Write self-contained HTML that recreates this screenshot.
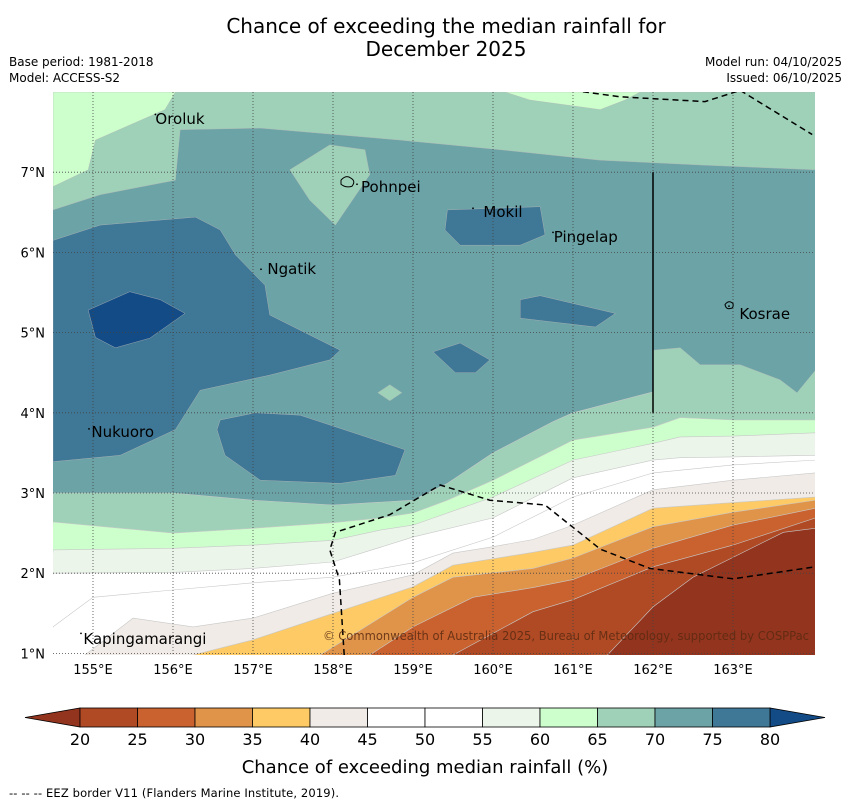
<!DOCTYPE html>
<html><head><meta charset="utf-8"><style>
html,body{margin:0;padding:0;background:#fff;}
body{width:850px;height:804px;overflow:hidden;font-family:"Liberation Sans","DejaVu Sans",sans-serif;}
svg text{font-family:"DejaVu Sans","Liberation Sans",sans-serif;}
</style></head><body>
<svg id="chart" width="850" height="804" xmlns="http://www.w3.org/2000/svg">
<text x="446" y="33" font-size="20" text-anchor="middle">Chance of exceeding the median rainfall for</text>
<text x="446" y="56" font-size="20" text-anchor="middle">December 2025</text>
<text x="9" y="66" font-size="12">Base period: 1981-2018</text>
<text x="9" y="82" font-size="12">Model: ACCESS-S2</text>
<text x="842" y="66" font-size="12" text-anchor="end">Model run: 04/10/2025</text>
<text x="842" y="82" font-size="12" text-anchor="end">Issued: 06/10/2025</text>
<defs><clipPath id="mapclip"><rect x="53" y="92" width="762" height="563"/></clipPath></defs>
<g id="map" clip-path="url(#mapclip)"></g>
<g id="axes"></g>
<g id="cbar"></g>
<text x="425" y="773" font-size="18" text-anchor="middle">Chance of exceeding median rainfall (%)</text>
<text x="9" y="797" font-size="11.5" textLength="330">--  --  -- EEZ border V11 (Flanders Marine Institute, 2019).</text>
</svg>
<script>
// ---- data ----
const levels = [20,25,30,35,40,45,50,55,60,65,70,75,80];
const levelColors = ["#b04a25","#c9622f","#e0944a","#fdca66","#f0ebe6","#ffffff","#ffffff","#ebf5ea","#ccffcc","#9ed1b8","#6ba3a6","#3f7796"];
const underColor = "#93341e";
const overColor = "#134b86";
const lonTicks = [155,156,157,158,159,160,161,162,163];
const latTicks = [1,2,3,4,5,6,7];
// north regions: [class value, polygon lon/lat]
const northRegions = [
 [67,[[154.5,8],[164.03,8],[164.03,7.03],[162.59,7.09],[161.34,7.15],[160.09,7.28],[158.84,7.4],[157.09,7.55],[156.09,7.53],[156.03,6.9],[155.09,6.72],[154.5,6.53]]],
 [62,[[154.5,8],[156.03,8],[155.9,7.78],[155.03,7.4],[154.94,7.03],[154.5,6.82]]],
 [62,[[160.15,8],[160.46,7.9],[161.34,7.78],[161.65,7.9],[161.84,8]]],
 [67,[[157.46,7.03],[157.96,7.34],[158.4,7.28],[158.46,6.97],[158.03,6.34],[157.71,6.65]]],
 [77,[[154.5,6.15],[155.09,6.34],[156.28,6.44],[156.59,6.28],[156.78,5.97],[157.15,5.59],[157.21,5.22],[158.09,4.78],[157.96,4.66],[157.21,4.47],[156.34,4.28],[156.03,3.79],[155.34,3.47],[154.5,3.39]]],
 [77,[[159.43,6.53],[160.59,6.57],[160.65,6.22],[160.34,6.09],[159.59,6.09],[159.4,6.28]]],
 [77,[[156.59,3.91],[157.03,4.0],[157.59,3.97],[158.9,3.54],[158.78,3.22],[158.09,3.12],[157.09,3.16],[156.65,3.47],[156.55,3.79]]],
 [77,[[160.34,5.41],[160.59,5.46],[161.53,5.24],[161.28,5.07],[160.34,5.18]]],
 [77,[[159.25,4.76],[159.59,4.87],[159.96,4.66],[159.78,4.5],[159.53,4.5]]],
 [67,[[158.56,4.25],[158.71,4.35],[158.86,4.25],[158.71,4.15]]],
 [82,[[154.94,5.28],[155.46,5.51],[155.84,5.41],[156.15,5.24],[155.71,4.93],[155.28,4.81],[155.03,4.94]]]
];
const kosraeRegion = [[162.0,4.78],[162.34,4.81],[162.59,4.6],[163.09,4.6],[163.59,4.41],[163.8,4.25],[164.03,4.53],[164.03,4.0],[162.0,4.0]];
// south bands: area below boundary has values below "below"
const bandBelow = [70,65,60,55,50,45,40,35,30,25,20];
const bandLons = [
 [154.5,155,156,157,158,159,159.43,160,160.75,161,162,163,164.03],
 [154.5,156,157,158,158.6,159,159.43,160,161,162,162.34,163,164.03],
 [154.5,156,157,158,158.6,159,160,161,162,162.34,163,164.03],
 [154.5,156,157,158,159,160,161,162,162.34,163,164.03],
 [154.5,155,156,157,158,159,160,161,162,163,164.03],
 [154.9,155.5,156.25,157,158,159,159.5,160,160.5,161,162,163,164.03],
 [156.25,157,158,159,159.5,160.5,161,162,163,164.03],
 [157.84,159,159.5,160.5,161,162,163,164.03],
 [158.46,159,159.75,160.5,161,162,163,164.03],
 [159.5,160.5,161,162,163,164.03],
 [161.43,162,162.5,163.63,164.03]
];
const bandLats = [
 [3.0,3.0,3.0,2.91,2.85,2.91,3.12,3.5,3.89,4.0,4.26,4.07,4.1],
 [2.64,2.5,2.56,2.63,2.69,2.75,2.91,3.16,3.66,3.82,3.94,3.91,3.91],
 [2.29,2.31,2.35,2.41,2.54,2.6,2.95,3.41,3.62,3.7,3.71,3.75],
 [2.0,2.01,2.06,2.14,2.45,2.69,3.19,3.41,3.44,3.45,3.47],
 [1.33,1.7,1.79,1.88,1.95,2.13,2.45,2.95,3.25,3.35,3.41],
 [0.98,1.44,1.33,1.44,1.75,1.98,2.25,2.33,2.42,2.6,3.04,3.16,3.25],
 [0.98,1.17,1.5,1.83,2.1,2.26,2.35,2.81,2.88,2.95],
 [0.98,1.7,1.95,2.06,2.19,2.58,2.76,2.91],
 [0.98,1.33,1.7,1.82,1.92,2.31,2.6,2.81],
 [0.98,1.52,1.67,2.08,2.35,2.69],
 [0.98,1.58,1.95,2.51,2.56]
];
const eezSouth = [[158.14,0.98],[158.08,1.92],[157.96,2.29],[158.03,2.51],[158.71,2.73],[159.34,3.1],[159.96,2.91],[160.65,2.85],[161.34,2.3],[161.96,2.06],[163.0,1.93],[164.03,2.08]];
const eezNorth = [[161.0,8.02],[161.59,7.94],[162.65,7.88],[163.09,8.02]];
const eezNorth2 = [[163.09,8.02],[163.99,7.47]];
const places = [["Oroluk",155.78,7.72],["Pohnpei",158.3,6.85],["Mokil",159.75,6.55],["Pingelap",160.75,6.25],["Ngatik",157.1,5.79],["Kosrae",162.95,5.33],["Nukuoro",154.95,3.8],["Kapingamarangi",154.85,1.25]];
const labelText = [["Oroluk",155.78,7.6],["Pohnpei",158.35,6.75],["Mokil",159.88,6.44],["Pingelap",160.76,6.13],["Ngatik",157.18,5.73],["Kosrae",163.08,5.17],["Nukuoro",154.98,3.7],["Kapingamarangi",154.88,1.12]];

// ---- axes ----
const X0=53,X1=815,Y0=92,Y1=655;
const lonMin=154.5,lonMax=164.025,latMin=0.98,latMax=8.0;
const xS=v=>X0+(v-lonMin)/(lonMax-lonMin)*(X1-X0);
const yS=v=>Y1-(v-latMin)/(latMax-latMin)*(Y1-Y0);
const NS="http://www.w3.org/2000/svg";
function mk(tag,attrs,parent){const e=document.createElementNS(NS,tag);for(const k in attrs)e.setAttribute(k,attrs[k]);parent.appendChild(e);return e;}
function colorFor(v){if(v<levels[0])return underColor;if(v>=levels[levels.length-1])return overColor;for(let i=0;i<levels.length-1;i++)if(v>=levels[i]&&v<levels[i+1])return levelColors[i];}
const map=document.getElementById('map');
let base=mk('rect',{x:X0,y:Y0,width:X1-X0,height:Y1-Y0,fill:colorFor(72)},map);


const ptsStr=p=>p.map(q=>xS(q[0]).toFixed(1)+','+yS(q[1]).toFixed(1)).join(' ');
northRegions.forEach((r,i)=>{
 const e=mk('polygon',{points:ptsStr(r[1]),fill:colorFor(r[0]),stroke:'#b8b8b8','stroke-width':0.4},map);
 
 
});
bandBelow.forEach((b,i)=>{
 const p=bandLons[i].map((lo,j)=>[lo,bandLats[i][j]]);
 p.push([lonMax+0.1,latMin-0.1]);p.push([bandLons[i][0],latMin-0.1]);p.push([lonMin-0.1,latMin-0.1]);
 const e=mk('polygon',{points:ptsStr(p),fill:colorFor(b-2.5),stroke:'#c8c8c8','stroke-width':0.6},map);
 
 
 if(i===0){
  const k=mk('polygon',{points:ptsStr(kosraeRegion),fill:colorFor(67),stroke:'#b8b8b8','stroke-width':0.4},map);
  
  
 }
});
// grid
lonTicks.forEach(v=>{const e=mk('line',{x1:xS(v),x2:xS(v),y1:Y0,y2:Y1,stroke:'#444','stroke-width':0.8,'stroke-dasharray':'1,2'},map);
 
 });
latTicks.forEach(v=>{const e=mk('line',{x1:X0,x2:X1,y1:yS(v),y2:yS(v),stroke:'#444','stroke-width':0.8,'stroke-dasharray':'1,2'},map);
 
 });
// eez
[eezSouth,eezNorth,eezNorth2].forEach(l=>{const e=mk('polyline',{points:ptsStr(l),fill:'none',stroke:'#000','stroke-width':1.5,'stroke-dasharray':'6,4'},map);
 
 });
let kl=mk('line',{x1:xS(162),x2:xS(162),y1:yS(7),y2:yS(4),stroke:'#000','stroke-width':1.5},map);


// islands
let pi=mk('path',{d:`M${xS(158.1)},${yS(6.9)} q5,-6 10,-2 q5,3 1,8 q-6,2 -11,-2 z`,fill:'none',stroke:'#000','stroke-width':1},map);


let ki=mk('path',{d:`M${xS(162.9)},${yS(5.35)} q4,-5 8,-1 q1,5 -3,5 q-4,1 -5,-4 z`,fill:'none',stroke:'#000','stroke-width':1},map);


places.forEach(p=>{const e=mk('circle',{cx:xS(p[1]),cy:yS(p[2]),r:0.9,fill:'#000'},map);
 
 });
labelText.forEach(p=>{const e=mk('text',{x:xS(p[1]),y:yS(p[2]),'font-size':15,fill:'#000'},map);e.textContent=p[0];
 
 });
let cp=mk('text',{x:323,y:640,'font-size':12,textLength:486,lengthAdjust:'spacingAndGlyphs',fill:'#5a2a10','fill-opacity':0.85},map);
cp.textContent='© Commonwealth of Australia 2025, Bureau of Meteorology, supported by COSPPac';


// ticks
const ax=document.getElementById('axes');
lonTicks.forEach(v=>{const e=mk('text',{x:xS(v),y:674,'font-size':13,'text-anchor':'middle'},ax);e.textContent=v+'°E';
 
 });
latTicks.forEach(v=>{const e=mk('text',{x:45,y:yS(v)+5,'font-size':13,'text-anchor':'end'},ax);e.textContent=v+'°N';
 
 });
// colorbar
const cb=document.getElementById('cbar');
const cX0=80,cX1=770,cY0=708,cY1=727;
const cS=v=>cX0+(v-levels[0])/(levels[levels.length-1]-levels[0])*(cX1-cX0);
let lt=mk('polygon',{points:`${cX0},${cY0} ${cX0},${cY1} 25,${(cY0+cY1)/2}`,fill:underColor,stroke:'#000','stroke-width':0.8},cb);


let rt=mk('polygon',{points:`${cX1},${cY0} ${cX1},${cY1} 825,${(cY0+cY1)/2}`,fill:overColor,stroke:'#000','stroke-width':0.8},cb);


for(let i=0;i<levels.length-1;i++){
 const e=mk('rect',{x:cS(levels[i]),y:cY0,width:cS(levels[i+1])-cS(levels[i]),height:cY1-cY0,fill:levelColors[i],stroke:'#000','stroke-width':0.8},cb);
 
 
}
levels.forEach(v=>{const e=mk('text',{x:cS(v),y:745,'font-size':16,'text-anchor':'middle'},cb);e.textContent=v;
 
 });
</script>
</body></html>
